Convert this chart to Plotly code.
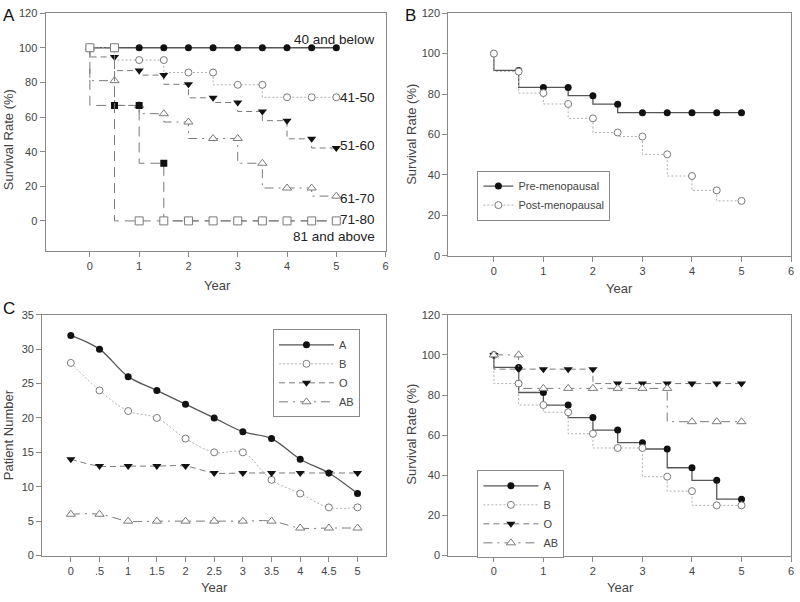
import plotly.graph_objects as go

# ---------------- data ----------------
years = [0, 0.5, 1, 1.5, 2, 2.5, 3, 3.5, 4, 4.5, 5]

# Panel A: survival by age group (%)
age_groups = ["40 and below", "41-50", "51-60", "61-70", "71-80", "81 and above"]
surv_40_below = [100, 100, 100, 100, 100, 100, 100, 100, 100, 100, 100]
surv_41_50 = [100, 100, 92.9, 92.9, 85.7, 85.7, 78.6, 78.6, 71.4, 71.4, 71.4]
surv_51_60 = [100, 94.7, 86.8, 84.2, 78.9, 71.1, 68.4, 63.2, 57.9, 47.4, 42.1]
surv_61_70 = [100, 81.0, 66.7, 61.9, 57.1, 47.6, 47.6, 33.3, 19.0, 19.0, 14.3]
surv_71_80 = [100, 66.7, 66.7, 33.3, 0, 0, 0, 0, 0, 0, 0]
surv_81_above = [100, 100, 0, 0, 0, 0, 0, 0, 0, 0, 0]

# Panel B: menopausal status (%)
meno_groups = ["Pre-menopausal", "Post-menopausal"]
surv_pre = [100, 91.7, 83.3, 83.3, 79.2, 75.0, 70.8, 70.8, 70.8, 70.8, 70.8]
surv_post = [100, 91.1, 80.5, 75.1, 68.0, 61.0, 59.0, 50.2, 39.5, 32.4, 27.2]

# Panel C: patient number by blood type
blood_types = ["A", "B", "O", "AB"]
year_labels_c = ["0", ".5", "1", "1.5", "2", "2.5", "3", "3.5", "4", "4.5", "5"]
num_A = [32, 30, 26, 24, 22, 20, 18, 17, 14, 12, 9]
num_B = [28, 24, 21, 20, 17, 15, 15, 11, 9, 7, 7]
num_O = [14, 13, 13, 13, 13, 12, 12, 12, 12, 12, 12]
num_AB = [6, 6, 5, 5, 5, 5, 5, 5, 4, 4, 4]

# Panel D: survival by blood type (%)
surv_A = [100, 93.75, 81.25, 75.0, 68.75, 62.5, 56.25, 53.1, 43.75, 37.5, 28.1]
surv_B = [100, 85.7, 75.0, 71.4, 60.7, 53.6, 53.6, 39.3, 32.1, 25.0, 25.0]
surv_O = [100, 92.9, 92.9, 92.9, 92.9, 85.7, 85.7, 85.7, 85.7, 85.7, 85.7]
surv_AB = [100, 100, 83.3, 83.3, 83.3, 83.3, 83.3, 83.3, 66.7, 66.7, 66.7]

# ---------------- styles ----------------
FONT = "Arial, Liberation Sans, sans-serif"
AX = "#8a8a8a"
TXT = "#444444"
DARK = "#555555"
MID = "#7a7a7a"
LIGHT = "#b0b0b0"

styles = {
    "solid": dict(line=dict(color=DARK, width=1.3, dash="solid"),
                  marker=dict(symbol="circle", size=7, color="#111111", line=dict(width=0))),
    "dotted": dict(line=dict(color=LIGHT, width=1, dash="2px,2px"),
                   marker=dict(symbol="circle", size=7, color="white", line=dict(color=MID, width=1))),
    "dash": dict(line=dict(color=MID, width=1, dash="6px,4px"),
                 marker=dict(symbol="triangle-down", size=8, color="#111111", line=dict(width=0))),
    "dashdot": dict(line=dict(color=MID, width=1, dash="9px,5px,2px,5px"),
                    marker=dict(symbol="triangle-up", size=8, color="white", line=dict(color=MID, width=1))),
    "longdash_f": dict(line=dict(color=MID, width=1, dash="10px,6px"),
                       marker=dict(symbol="square", size=7, color="#111111", line=dict(width=0))),
    "longdash_o": dict(line=dict(color=MID, width=1, dash="10px,6px"),
                       marker=dict(symbol="square", size=8, color="white", line=dict(color=MID, width=1))),
}

fig = go.Figure()


def add(x, y, name, style, xa, ya, shape, legend=None):
    st = styles[style]
    fig.add_trace(go.Scatter(
        x=x, y=y, name=name, mode="lines+markers",
        line=dict(st["line"], shape=shape), marker=st["marker"],
        xaxis=xa, yaxis=ya,
        showlegend=legend is not None, legend=legend or "legend",
    ))


# Panel A
for vals, name, st in zip(
        [surv_40_below, surv_41_50, surv_51_60, surv_61_70, surv_71_80, surv_81_above],
        age_groups,
        ["solid", "dotted", "dash", "dashdot", "longdash_f", "longdash_o"]):
    add(years, vals, name, st, "x", "y", "vh")

# Panel B
add(years, surv_pre, meno_groups[0], "solid", "x2", "y2", "vh", "legend")
add(years, surv_post, meno_groups[1], "dotted", "x2", "y2", "vh", "legend")

# Panel C
for vals, name, st in zip([num_A, num_B, num_O, num_AB], blood_types,
                          ["solid", "dotted", "dash", "dashdot"]):
    add(years, vals, name, st, "x3", "y3", "spline", "legend2")

# Panel D
for vals, name, st in zip([surv_A, surv_B, surv_O, surv_AB], blood_types,
                          ["solid", "dotted", "dash", "dashdot"]):
    add(years, vals, name, st, "x4", "y4", "vh", "legend3")

# ---------------- axes ----------------
common = dict(showline=True, linecolor=AX, linewidth=1, mirror=True,
              ticks="outside", ticklen=5, tickcolor=AX, showgrid=False, zeroline=False,
              ticklabeloverflow="allow",
              tickfont=dict(family=FONT, size=11, color=TXT))

layout_axes = dict(
    xaxis=dict(common, domain=[0.0571, 0.4838], range=[-0.9, 6], tickvals=[0, 1, 2, 3, 4, 5, 6],
               anchor="y"),
    yaxis=dict(common, domain=[0.5847, 0.9879], range=[-17.4, 120],
               tickvals=[0, 20, 40, 60, 80, 100, 120], anchor="x"),
    xaxis2=dict(common, domain=[0.5625, 0.9925], range=[-0.92, 6], tickvals=[0, 1, 2, 3, 4, 5, 6],
                anchor="y2"),
    yaxis2=dict(common, domain=[0.5764, 0.9879], range=[0, 120],
                tickvals=[0, 20, 40, 60, 80, 100, 120], anchor="x2"),
    xaxis3=dict(common, domain=[0.0529, 0.4846], range=[-0.5, 5.5], tickvals=years,
                ticktext=year_labels_c, anchor="y3"),
    yaxis3=dict(common, domain=[0.0686, 0.4767], range=[0, 35],
                tickvals=[0, 5, 10, 15, 20, 25, 30, 35], anchor="x3"),
    xaxis4=dict(common, domain=[0.5625, 0.9925], range=[-0.92, 6], tickvals=[0, 1, 2, 3, 4, 5, 6],
                anchor="y4"),
    yaxis4=dict(common, domain=[0.0686, 0.4767], range=[0, 120],
                tickvals=[0, 20, 40, 60, 80, 100, 120], anchor="x4"),
)

legend_common = dict(bgcolor="white", bordercolor=AX, borderwidth=1,
                     font=dict(family=FONT, size=11, color=TXT), tracegroupgap=0,
                     xanchor="left", yanchor="top", xref="paper", yref="paper")

fig.update_layout(
    width=800, height=602,
    margin=dict(l=0, r=0, t=0, b=0),
    paper_bgcolor="white", plot_bgcolor="white",
    font=dict(family=FONT, color=TXT),
    legend=dict(legend_common, x=0.599, y=0.721, itemwidth=30),
    legend2=dict(legend_common, x=0.3425, y=0.452, itemwidth=55),
    legend3=dict(legend_common, x=0.599, y=0.213, itemwidth=55),
    **layout_axes,
)

# ---------------- text ----------------
ann = []


def ptxt(x, y, text, size=13, angle=0, color=TXT, xanchor="center"):
    ann.append(dict(x=x / 800, y=1 - y / 602, xref="paper", yref="paper", text=text,
                    showarrow=False, textangle=angle, xanchor=xanchor, yanchor="middle",
                    font=dict(family=FONT, size=size, color=color)))


# panel letters
ptxt(9, 10, "A", 17, color="#111111")
ptxt(412, 10, "B", 17, color="#111111")
ptxt(9, 309, "C", 17, color="#111111")
# axis titles
ptxt(218, 285, "Year")
ptxt(622, 288, "Year")
ptxt(215, 593, "Year")
ptxt(623, 593, "Year")
ptxt(8, 136, "Survival Rate (%)", angle=-90)
ptxt(413, 131, "Survival Rate (%)", angle=-90)
ptxt(8, 437, "Patient Number", angle=-90)
ptxt(413, 437, "Survival Rate (%)", angle=-90)

# series labels in panel A
label_y = [104.9, 71.3, 43.4, 13.2, 0.9, -8.9]
for name, yv in zip(age_groups, label_y):
    ann.append(dict(x=5.82, y=yv, xref="x", yref="y", text=name, showarrow=False,
                    xanchor="right", yanchor="middle",
                    font=dict(family=FONT, size=13.5, color="#222222")))

fig.update_layout(annotations=ann)

fig.write_html("out.html",
               config={"displayModeBar": False},
               post_script="document.body.style.margin='0';document.body.style.overflow='hidden';")
